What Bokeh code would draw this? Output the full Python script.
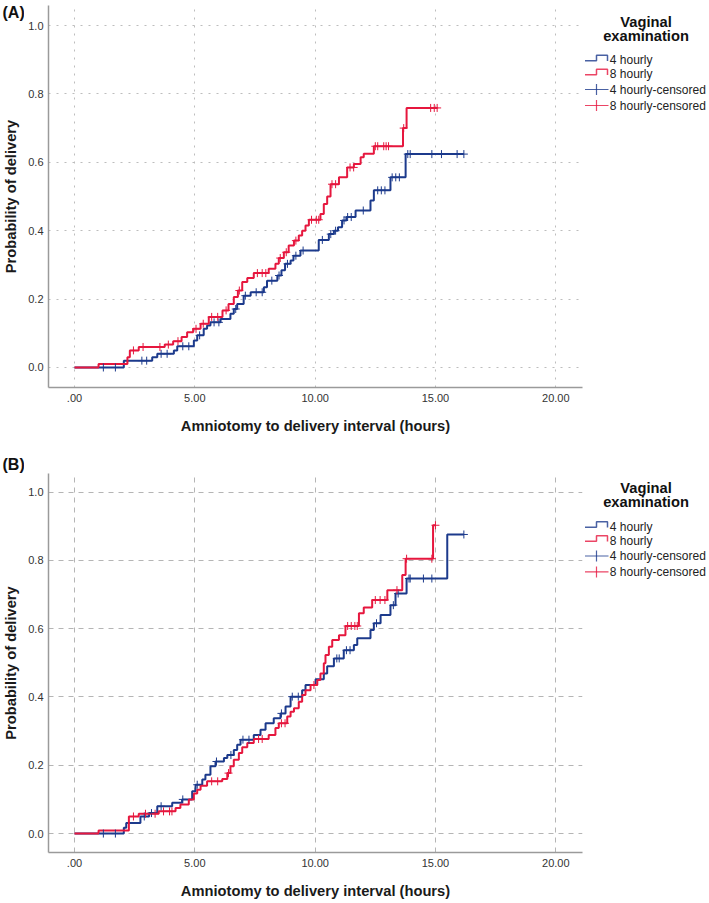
import numpy as np
from bokeh.plotting import figure
from bokeh.layouts import column, row
from bokeh.models import Range1d, FixedTicker
from bokeh.embed import file_html
from bokeh.resources import INLINE
from bokeh.core.properties import value

# ---------------- data ----------------
# Panel A : 4 hourly (blue)
a4_t = [0, 2.05, 3.23, 3.44, 4.13, 4.27, 4.96, 5.1, 5.37, 5.51, 5.65, 6.07, 6.48, 6.62, 6.76, 7.03,
        7.32, 7.87, 8.0, 8.43, 8.6, 8.75, 8.98, 9.1, 9.39, 10.15, 10.57, 10.78, 10.95, 11.12, 11.3,
        11.68, 12.3, 12.44, 13.13, 13.76, 16.18]
a4_p = [0, 0.02, 0.03, 0.04, 0.05, 0.062, 0.079, 0.094, 0.113, 0.123, 0.132, 0.142, 0.157, 0.171,
        0.186, 0.21, 0.22, 0.235, 0.254, 0.269, 0.284, 0.303, 0.313, 0.327, 0.342, 0.373, 0.39,
        0.40, 0.41, 0.43, 0.44, 0.459, 0.488, 0.518, 0.556, 0.624, 0.624]
a4_c = [1.2, 1.7, 2.8, 3.0, 3.6, 3.85, 4.5, 4.75, 5.2, 5.8, 6.0, 6.7, 7.1, 7.55, 7.8, 8.2, 8.5,
        8.85, 9.2, 9.5, 10.3, 10.65, 10.85, 11.2, 11.35, 11.5, 12.0, 12.6, 12.75, 12.9, 13.2,
        13.35, 13.5, 13.85, 13.95, 14.85, 15.25, 15.9, 16.18]
# Panel A : 8 hourly (red)
a8_t = [0, 1.0, 2.2, 2.3, 2.67, 3.75, 4.1, 4.45, 4.68, 4.93, 5.24, 5.58, 6.15, 6.4, 6.62, 6.79,
        6.97, 7.18, 7.45, 8.07, 8.35, 8.49, 8.7, 8.9, 9.12, 9.32, 9.46, 9.6, 9.74, 10.22, 10.36,
        10.5, 10.64, 10.99, 11.33, 11.61, 11.89, 12.02, 12.44, 13.65, 13.8, 15.07]
a8_p = [0, 0.01, 0.03, 0.05, 0.06, 0.067, 0.077, 0.089, 0.103, 0.113, 0.128, 0.148, 0.167, 0.186,
        0.206, 0.225, 0.25, 0.262, 0.276, 0.289, 0.303, 0.32, 0.337, 0.357, 0.371, 0.386, 0.40,
        0.415, 0.432, 0.449, 0.478, 0.50, 0.536, 0.556, 0.585, 0.595, 0.615, 0.625, 0.647, 0.70,
        0.759, 0.759]
a8_c = [2.45, 2.85, 3.55, 3.9, 4.3, 5.05, 5.35, 5.7, 5.95, 6.3, 6.85, 7.6, 7.8, 7.95, 8.55, 8.8,
        9.2, 9.85, 10.05, 10.15, 10.7, 10.85, 11.45, 11.6, 12.5, 12.6, 12.85, 12.95, 13.05,
        13.68, 14.8, 14.95, 15.07]

# Panel B : 4 hourly (blue)
b4_t = [0, 2.05, 2.15, 2.74, 3.1, 3.44, 4.06, 4.47, 4.89, 5.03, 5.31, 5.44, 5.65, 5.86, 6.21,
        6.35, 6.62, 6.76, 6.9, 7.45, 7.73, 7.94, 8.28, 8.56, 8.77, 8.98, 9.46, 9.6, 10.02, 10.36,
        10.5, 10.78, 11.19, 11.61, 11.75, 12.3, 12.44, 12.72, 13.13, 13.34, 13.8, 15.49, 16.18]
b4_p = [0, 0.017, 0.031, 0.05, 0.06, 0.08, 0.09, 0.1, 0.124, 0.143, 0.158, 0.172, 0.197, 0.211,
        0.221, 0.23, 0.245, 0.26, 0.275, 0.289, 0.304, 0.323, 0.338, 0.352, 0.372, 0.401, 0.42,
        0.435, 0.452, 0.469, 0.49, 0.513, 0.537, 0.552, 0.572, 0.596, 0.616, 0.64, 0.669, 0.703,
        0.747, 0.876, 0.876]
b4_c = [1.2, 1.7, 2.9, 3.2, 3.6, 4.5, 5.1, 5.9, 6.5, 7.0, 7.25, 8.6, 9.05, 9.3, 10.9, 11.0,
        11.3, 11.45, 12.55, 13.25, 13.45, 13.9, 13.95, 14.5, 14.85, 16.18]
# Panel B : 8 hourly (red)
b8_t = [0, 1.0, 2.26, 2.67, 3.5, 4.2, 4.4, 4.75, 4.96, 5.1, 5.24, 5.51, 6.14, 6.35, 6.48, 6.62,
        6.83, 6.97, 7.18, 7.45, 8.07, 8.35, 8.49, 8.84, 8.98, 9.12, 9.32, 9.46, 9.6, 9.81, 10.09,
        10.22, 10.36, 10.43, 10.57, 10.71, 10.99, 11.26, 11.82, 12.02, 12.37, 13.0, 13.62, 13.76,
        14.9, 15.0]
b8_p = [0, 0.009, 0.05, 0.058, 0.065, 0.075, 0.085, 0.1, 0.117, 0.128, 0.14, 0.153, 0.16, 0.177,
        0.197, 0.216, 0.236, 0.253, 0.265, 0.277, 0.289, 0.309, 0.323, 0.343, 0.357, 0.367, 0.386,
        0.406, 0.42, 0.435, 0.45, 0.469, 0.499, 0.523, 0.547, 0.567, 0.581, 0.608, 0.645, 0.662,
        0.684, 0.713, 0.757, 0.805, 0.903, 0.903]
b8_c = [2.45, 2.95, 3.35, 3.7, 3.95, 4.05, 5.7, 5.95, 6.4, 7.65, 7.8, 8.6, 8.75, 9.95, 11.35,
        11.5, 11.65, 11.75, 12.5, 12.7, 12.9, 13.4, 13.8, 14.85, 15.0]

x_ticks = [0, 5, 10, 15, 20]
x_tick_labels = [".00", "5.00", "10.00", "15.00", "20.00"]
y_ticks = [0, 0.2, 0.4, 0.6, 0.8, 1.0]
y_tick_labels = ["0.0", "0.2", "0.4", "0.6", "0.8", "1.0"]

legend_title = ["Vaginal", "examination"]
legend_labels = ["4 hourly", "8 hourly", "4 hourly-censored", "8 hourly-censored"]
x_label = "Amniotomy to delivery interval (hours)"
y_label = "Probability of delivery"

BLUE = "#1C3A8C"
RED = "#E6173E"
FONT = "Liberation Sans"

LEFT_W = 24
MAIN_W = 560
LEG_W = 125


def step_at(ts, ps, c):
    ts = np.asarray(ts, float)
    idx = np.searchsorted(ts, np.asarray(c, float), side="right") - 1
    return np.asarray(ps, float)[np.clip(idx, 0, len(ps) - 1)]


def strip(width, height, btop, bbot):
    # decoration strip whose frame matches the main plot frame rows (btop .. height-bbot);
    # y coordinate = -(pixels from the top of the row)
    f = figure(width=width, height=height, x_range=Range1d(0, width),
               y_range=Range1d(-(height - bbot), -btop), x_axis_type=None, y_axis_type=None,
               output_backend="svg", toolbar_location=None, min_border_left=0,
               min_border_right=0, min_border_top=btop, min_border_bottom=bbot)
    f.outline_line_color = None
    f.xgrid.visible = False
    f.ygrid.visible = False
    return f


def left_fig(height, btop, bbot, tag, tag_in_frame):
    f = strip(LEFT_W, height, btop, bbot)
    fb = height - bbot
    if tag_in_frame:
        f.text(x=[2], y=[-12], text=[tag], text_font=value(FONT), text_font_size="16px",
               text_font_style="bold", text_color="#111111", text_align="left",
               text_baseline="middle")
    else:
        f.title.text = tag
        f.title.align = "left"
        f.title.offset = 2
        f.title.standoff = 1
        f.title.text_font = FONT
        f.title.text_font_size = "16px"
        f.title.text_font_style = "bold"
        f.title.text_color = "#111111"
    f.text(x=[10], y=[-(btop + fb) / 2], text=[y_label], angle=np.pi / 2,
           text_font=value(FONT), text_font_size="14.7px", text_font_style="bold",
           text_color="#1a1a1a", text_align="center", text_baseline="middle")
    return f


def panel(t4, p4, c4, t8, p8, c8, dash, gcolor, ytop, ybot, height, btop, bbot):
    p = figure(width=MAIN_W, height=height, x_range=Range1d(-1.08, 21.11),
               y_range=Range1d(ybot, ytop), output_backend="svg", toolbar_location=None,
               min_border_left=24, min_border_right=2, min_border_top=btop,
               min_border_bottom=bbot)
    p.outline_line_color = None

    p.xaxis.ticker = FixedTicker(ticks=x_ticks)
    p.yaxis.ticker = FixedTicker(ticks=y_ticks)
    p.xaxis.major_label_overrides = {k: v for k, v in zip(x_ticks, x_tick_labels)}
    p.yaxis.major_label_overrides = {k: v for k, v in zip(y_ticks, y_tick_labels)}
    for ax in (p.xaxis, p.yaxis):
        ax.major_tick_line_color = None
        ax.minor_tick_line_color = None
        ax.major_tick_out = 0
        ax.major_tick_in = 0
        ax.axis_line_color = "#9A9A9A"
        ax.axis_line_width = 1.5
        ax.major_label_text_font = FONT
        ax.major_label_text_font_size = "11px"
        ax.major_label_text_color = "#333333"
        ax.axis_label_text_font = FONT
        ax.axis_label_text_font_size = "14.7px"
        ax.axis_label_text_font_style = "bold"
        ax.axis_label_text_color = "#1a1a1a"
    p.xaxis.axis_label = x_label
    p.xaxis.major_label_standoff = 6
    p.xaxis.axis_label_standoff = 13
    p.yaxis.major_label_standoff = 5

    p.xgrid.ticker = FixedTicker(ticks=x_ticks)
    p.ygrid.ticker = FixedTicker(ticks=y_ticks)
    for g in (p.xgrid, p.ygrid):
        g.grid_line_color = gcolor
        g.grid_line_dash = dash
        g.grid_line_width = 1

    p.step(t4, p4, mode="after", line_color=BLUE, line_width=2)
    p.step(t8, p8, mode="after", line_color=RED, line_width=2)
    p.scatter(c4, step_at(t4, p4, c4), marker="cross", size=8, line_color=BLUE, line_width=1)
    p.scatter(c8, step_at(t8, p8, c8), marker="cross", size=8, line_color=RED, line_width=1)
    return p


def legend_fig(height, btop, bbot, one):
    # one: pixels from top of the row where the 1.0 gridline lies
    lf = strip(LEG_W, height, btop, bbot)
    lf.text(x=[61.5, 61.5], y=[-(one - 4), -(one + 10)], text=legend_title,
            text_font=value(FONT), text_font_size="14.7px", text_font_style="bold",
            text_color="#111111", text_align="center", text_baseline="middle")
    rows = [one + 34.5, one + 48.5, one + 64, one + 80]
    lf.text(x=[25.3] * 4, y=[-r for r in rows], text=legend_labels, text_font=value(FONT),
            text_font_size="12px", text_color="#222222", text_align="left",
            text_baseline="middle")
    for yc, col in zip(rows[:2], [BLUE, RED]):
        lf.line([0.5, 12, 12, 23, 23],
                [-(yc + 0.7), -(yc + 0.7), -(yc - 4.7), -(yc - 4.7), -(yc + 1)],
                line_color=col, line_width=1.5, line_alpha=0.8)
    for yc, col in zip(rows[2:], [BLUE, RED]):
        lf.line([0.5, 24], [-yc, -yc], line_color=col, line_width=1.2, line_alpha=0.8)
        lf.line([12, 12], [-(yc - 5.5), -(yc + 5.5)], line_color=col, line_width=1.2,
                line_alpha=0.8)
    return lf


HA, TA, BA = 446, 5, 59
HB, TB, BB = 455, 27, 48
pa = panel(a4_t, a4_p, a4_c, a8_t, a8_p, a8_c, "2 6", "#BDBDBD",
           1.0585, -0.0585, HA, TA, BA)
pb = panel(b4_t, b4_p, b4_c, b8_t, b8_p, b8_c, "5 5", "#B5B5B5",
           1.0546, -0.0555, HB, TB, BB)

layout = column(
    row(left_fig(HA, TA, BA, "(A)", True), pa, legend_fig(HA, TA, BA, 25)),
    row(left_fig(HB, TB, BB, "(B)", False), pb, legend_fig(HB, TB, BB, 45.7)),
)
open("out.html", "w").write(file_html(layout, INLINE))
